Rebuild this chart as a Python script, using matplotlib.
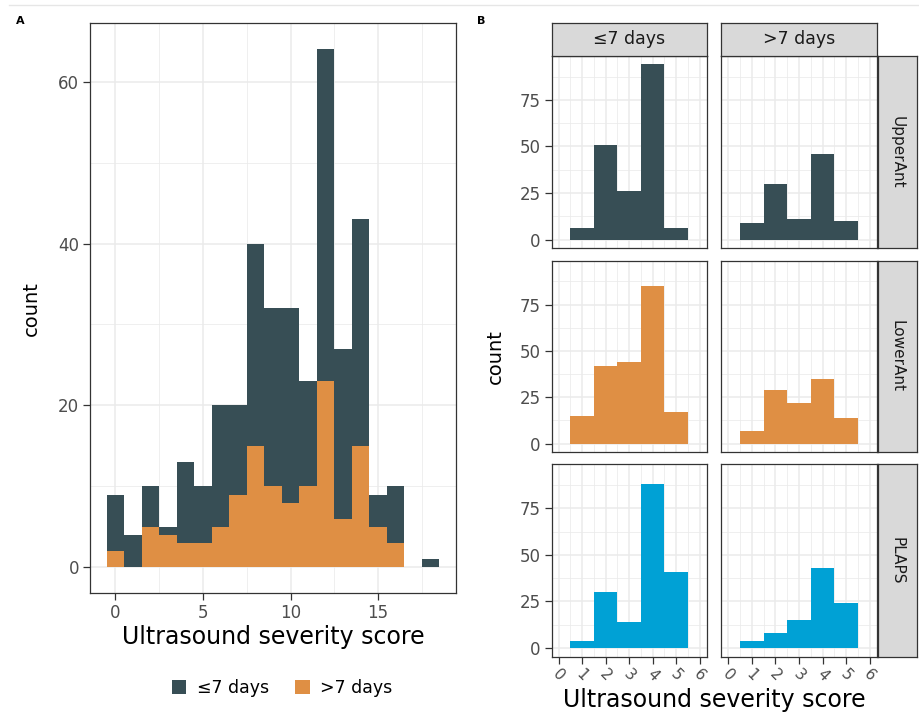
import numpy as np
import matplotlib
matplotlib.use("Agg")
import matplotlib.pyplot as plt
from matplotlib.patches import Patch
from matplotlib.lines import Line2D
from matplotlib.ticker import MultipleLocator

plt.rcParams['font.family'] = ['DejaVu Sans']

# panel A: stacked histogram of total severity score
scores = np.arange(0, 19)
short_counts = [7, 4, 5, 1, 10, 7, 15, 11, 25, 22, 24, 13, 41, 21, 28, 4, 7, 0, 1]   # <=7 days
long_counts = [2, 0, 5, 4, 3, 3, 5, 9, 15, 10, 8, 10, 23, 6, 15, 5, 3, 0, 0]        # >7 days

# panel B: per-region scores 1..5
region_scores = [1, 2, 3, 4, 5]
regions = ['UpperAnt', 'LowerAnt', 'PLAPS']
groups = ['≤7 days', '>7 days']
upper_short = [6, 51, 26, 94, 6]
upper_long = [9, 30, 11, 46, 10]
lower_short = [15, 42, 44, 85, 17]
lower_long = [7, 29, 22, 35, 14]
plaps_short = [4, 30, 14, 88, 41]
plaps_long = [4, 8, 15, 43, 24]

dark = '#374E55'
orange = '#DF8F44'
blue = '#00A1D5'
region_colors = [dark, orange, blue]
region_data = [[upper_short, upper_long], [lower_short, lower_long], [plaps_short, plaps_long]]

W, H = 919, 717
fig = plt.figure(figsize=(W / 100, H / 100), dpi=100)


def px_axes(x0, y0, x1, y1):
    # pixel box (top-left origin) -> figure axes
    return fig.add_axes([x0 / W, 1 - y1 / H, (x1 - x0) / W, (y1 - y0) / H])


def style(ax):
    ax.set_facecolor('white')
    for s in ax.spines.values():
        s.set_color('#333333')
        s.set_linewidth(0.9)
    ax.set_axisbelow(True)
    ax.grid(True, which='major', color='#EBEBEB', lw=1.1)
    ax.grid(True, which='minor', color='#EBEBEB', lw=0.55)
    ax.tick_params(which='major', length=5, width=0.9, color='#333333',
                   labelcolor='#4D4D4D', labelsize=12, pad=3)
    ax.tick_params(which='minor', length=0)


# faint line at top of the figure
fig.add_artist(Line2D([9 / W, 1], [1 - 5 / H, 1 - 5 / H], color='#E6E6E6', lw=1))

# ---- panel A
axA = px_axes(90, 23.3, 456, 593.3)
style(axA)
axA.bar(scores, long_counts, width=1, color=orange, lw=0)
axA.bar(scores, short_counts, width=1, bottom=long_counts, color=dark, lw=0)
axA.set_xlim(-1.45, 19.45)
axA.set_ylim(-3.2, 67.2)
axA.xaxis.set_major_locator(MultipleLocator(5))
axA.xaxis.set_minor_locator(MultipleLocator(2.5))
axA.yaxis.set_major_locator(MultipleLocator(20))
axA.yaxis.set_minor_locator(MultipleLocator(10))
axA.set_xlabel('Ultrasound severity score', fontsize=17, labelpad=2)
axA.set_ylabel('count', fontsize=14, labelpad=12)
fig.text(20 / W, 1 - 21 / H, 'A', fontsize=8, fontweight='bold', ha='center', va='center')

handles = [Patch(facecolor=dark, edgecolor='none', label=groups[0]),
           Patch(facecolor=orange, edgecolor='none', label=groups[1])]
fig.legend(handles=handles, loc='center', bbox_to_anchor=(282 / W, 1 - 688 / H), ncol=2,
           frameon=False, fontsize=12.5, handlelength=0.85, handleheight=0.85,
           handletextpad=0.6, columnspacing=1.5)

# ---- panel B
fig.text(481 / W, 1 - 21 / H, 'B', fontsize=8, fontweight='bold', ha='center', va='center')
col_x = [(551.7, 706.7), (721.3, 876.7)]
row_y = [(55.7, 248.3), (260.7, 452.3), (464.3, 656.7)]

for r in range(3):
    for c in range(2):
        ax = px_axes(col_x[c][0], row_y[r][0], col_x[c][1], row_y[r][1])
        style(ax)
        ax.bar(region_scores, region_data[r][c], width=1, color=region_colors[r], lw=0)
        ax.set_xlim(-0.3, 6.3)
        ax.set_ylim(-4.7, 98.7)
        ax.xaxis.set_major_locator(MultipleLocator(1))
        ax.xaxis.set_minor_locator(MultipleLocator(0.5))
        ax.yaxis.set_major_locator(MultipleLocator(25))
        ax.yaxis.set_minor_locator(MultipleLocator(12.5))
        if r < 2:
            ax.tick_params(axis='x', length=0, labelbottom=False)
        else:
            ax.set_xticks(range(7))
            ax.set_xticklabels([str(v) for v in range(7)], rotation=-45, ha='center')
            ax.tick_params(axis='x', pad=2, labelsize=11)
        if c > 0:
            ax.tick_params(axis='y', length=0, labelleft=False)

# strips
for c in range(2):
    sax = px_axes(col_x[c][0], 23.3, col_x[c][1], 55.7)
    sax.set_facecolor('#D9D9D9')
    sax.set_xticks([])
    sax.set_yticks([])
    for s in sax.spines.values():
        s.set_color('#333333')
        s.set_linewidth(0.9)
    sax.text(0.5, 0.5, groups[c], transform=sax.transAxes, ha='center', va='center',
             fontsize=12.5, color='#1A1A1A')
for r in range(3):
    sax = px_axes(877.5, row_y[r][0], 917, row_y[r][1])
    sax.set_facecolor('#D9D9D9')
    sax.set_xticks([])
    sax.set_yticks([])
    for s in sax.spines.values():
        s.set_color('#333333')
        s.set_linewidth(0.9)
    sax.text(0.5, 0.5, regions[r], transform=sax.transAxes, ha='center', va='center',
             rotation=-90, fontsize=11, color='#1A1A1A')

fig.text(714 / W, 1 - 700 / H, 'Ultrasound severity score', fontsize=17, ha='center', va='center')
fig.text(495 / W, 1 - 357 / H, 'count', fontsize=14, ha='center', va='center', rotation=90)

fig.savefig('out.png', dpi=100)
